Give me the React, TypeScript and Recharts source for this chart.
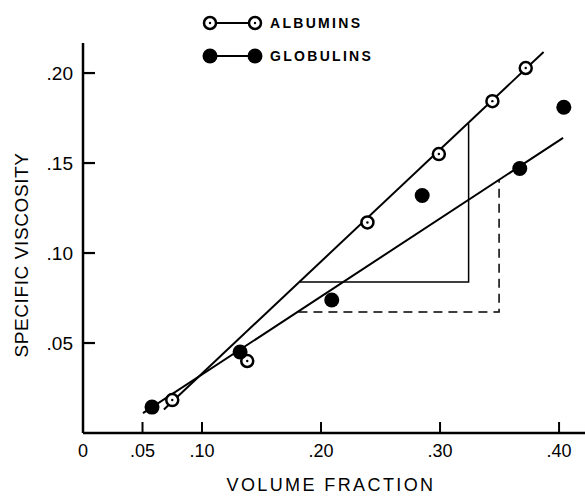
import React from 'react';
import { ComposedChart, Scatter, Line, XAxis, YAxis, Legend, Label } from 'recharts';

const albuminX = [0.075, 0.138, 0.239, 0.299, 0.344, 0.372];
const albuminY = [0.0183, 0.040, 0.117, 0.155, 0.1844, 0.2028];
const globulinX = [0.058, 0.132, 0.209, 0.285, 0.367, 0.404];
const globulinY = [0.0144, 0.045, 0.0739, 0.132, 0.147, 0.181];

// fitted lines (end points)
const albuminFitX = [0.068, 0.387];
const albuminFitY = [0.0131, 0.2117];
const globulinFitX = [0.0504, 0.4034];
const globulinFitY = [0.011, 0.164];

// slope triangles: horizontal leg then vertical leg
const solidTriX = [0.182, 0.324, 0.324];
const solidTriY = [0.0839, 0.0839, 0.172];
const dashedTriX = [0.181, 0.3496, 0.3496];
const dashedTriY = [0.0672, 0.0672, 0.1407];

const xTicks = [0, 0.05, 0.1, 0.2, 0.3, 0.4];
const yTicks = [0.05, 0.1, 0.15, 0.2];

const zip = (xs: number[], ys: number[]) => xs.map((x, i) => ({ x, y: ys[i] }));

const albumins = zip(albuminX, albuminY);
const globulins = zip(globulinX, globulinY);
const albuminFit = zip(albuminFitX, albuminFitY);
const globulinFit = zip(globulinFitX, globulinFitY);
const solidTri = zip(solidTriX, solidTriY);
const dashedTri = zip(dashedTriX, dashedTriY);

const FONT = '"Liberation Sans", Arial, sans-serif';

const fmt = (v: number) => (v === 0 ? '0' : '.' + v.toFixed(2).slice(2));

const OpenDot = ({ cx, cy }: any) => (
  <g>
    <circle cx={cx} cy={cy} r={6} fill="#fff" stroke="#000" strokeWidth={2.5} />
    <circle cx={cx} cy={cy} r={1.2} fill="#000" />
  </g>
);

const FilledDot = ({ cx, cy }: any) => <circle cx={cx} cy={cy} r={7.5} fill="#000" />;

const XTick = ({ x, y, payload }: any) => (
  <g>
    {payload.value !== 0 && <line x1={x} y1={y} x2={x} y2={y - 11} stroke="#000" strokeWidth={2} />}
    <text x={x} y={y + 24} textAnchor="middle" fontSize={18} fontFamily={FONT} fill="#000">
      {fmt(payload.value)}
    </text>
  </g>
);

const YTick = ({ x, y, payload }: any) => (
  <g>
    <line x1={x} y1={y} x2={x + 12} y2={y} stroke="#000" strokeWidth={2.2} />
    <text x={x - 10} y={y + 7} textAnchor="end" fontSize={19} fontFamily={FONT} fill="#000">
      {fmt(payload.value)}
    </text>
  </g>
);

const LegendBox = () => (
  <div style={{ fontFamily: FONT, fontSize: 14, fontWeight: 'bold', letterSpacing: 2.3, color: '#000' }}>
    {[0, 1].map((i) => (
      <div key={i} style={{ display: 'flex', alignItems: 'center', height: 33 }}>
        <svg width={70} height={20}>
          <line x1={10} y1={10} x2={55} y2={10} stroke="#000" strokeWidth={2} />
          {i === 0 ? (
            <>
              <OpenDot cx={10} cy={10} />
              <OpenDot cx={55} cy={10} />
            </>
          ) : (
            <>
              <FilledDot cx={10} cy={10} />
              <FilledDot cx={55} cy={10} />
            </>
          )}
        </svg>
        <span>{i === 0 ? 'ALBUMINS' : 'GLOBULINS'}</span>
      </div>
    ))}
  </div>
);

export default function App() {
  return (
    <div style={{ position: 'absolute', left: 0, top: 0, background: '#fff' }}>
      <ComposedChart width={585} height={497} margin={{ top: 43, right: 0, bottom: 0, left: 0 }}>
        <XAxis
          type="number"
          dataKey="x"
          domain={[0, 0.4218]}
          ticks={xTicks}
          tick={XTick}
          tickLine={false}
          tickSize={0}
          tickMargin={0}
          height={64}
          axisLine={{ stroke: '#000', strokeWidth: 2.5 }}
          allowDataOverflow
        >
          <Label
            content={({ viewBox }: any) => (
              <text
                x={viewBox.x + viewBox.width / 2 - 3}
                y={viewBox.y + 58}
                textAnchor="middle"
                fontSize={18}
                letterSpacing={2.4}
                fontFamily={FONT}
                fill="#000"
              >
                VOLUME FRACTION
              </text>
            )}
          />
        </XAxis>
        <YAxis
          type="number"
          domain={[0, 0.2167]}
          ticks={yTicks}
          tick={YTick}
          tickLine={false}
          tickSize={0}
          tickMargin={0}
          width={83}
          axisLine={{ stroke: '#000', strokeWidth: 2.5 }}
          allowDataOverflow
        >
          <Label
            content={({ viewBox }: any) => {
              const cx = 28;
              const cy = viewBox.y + viewBox.height / 2 + 17;
              return (
                <text
                  x={cx}
                  y={cy}
                  transform={`rotate(-90 ${cx} ${cy})`}
                  textAnchor="middle"
                  fontSize={19}
                  letterSpacing={0.6}
                  fontFamily={FONT}
                  fill="#000"
                >
                  SPECIFIC VISCOSITY
                </text>
              );
            }}
          />
        </YAxis>
        <Legend
          layout="vertical"
          align="center"
          verticalAlign="middle"
          content={<LegendBox />}
          wrapperStyle={{ top: 6, left: 200, width: 'auto' }}
        />
        <Line data={albuminFit} dataKey="y" stroke="#000" strokeWidth={2} dot={false} isAnimationActive={false} />
        <Line data={globulinFit} dataKey="y" stroke="#000" strokeWidth={2} dot={false} isAnimationActive={false} />
        <Line data={solidTri} dataKey="y" stroke="#000" strokeWidth={1.5} dot={false} isAnimationActive={false} />
        <Line
          data={dashedTri}
          dataKey="y"
          stroke="#000"
          strokeWidth={1.5}
          strokeDasharray="9 6"
          dot={false}
          isAnimationActive={false}
        />
        <Scatter data={albumins} dataKey="y" shape={OpenDot} isAnimationActive={false} />
        <Scatter data={globulins} dataKey="y" shape={FilledDot} isAnimationActive={false} />
      </ComposedChart>
    </div>
  );
}
